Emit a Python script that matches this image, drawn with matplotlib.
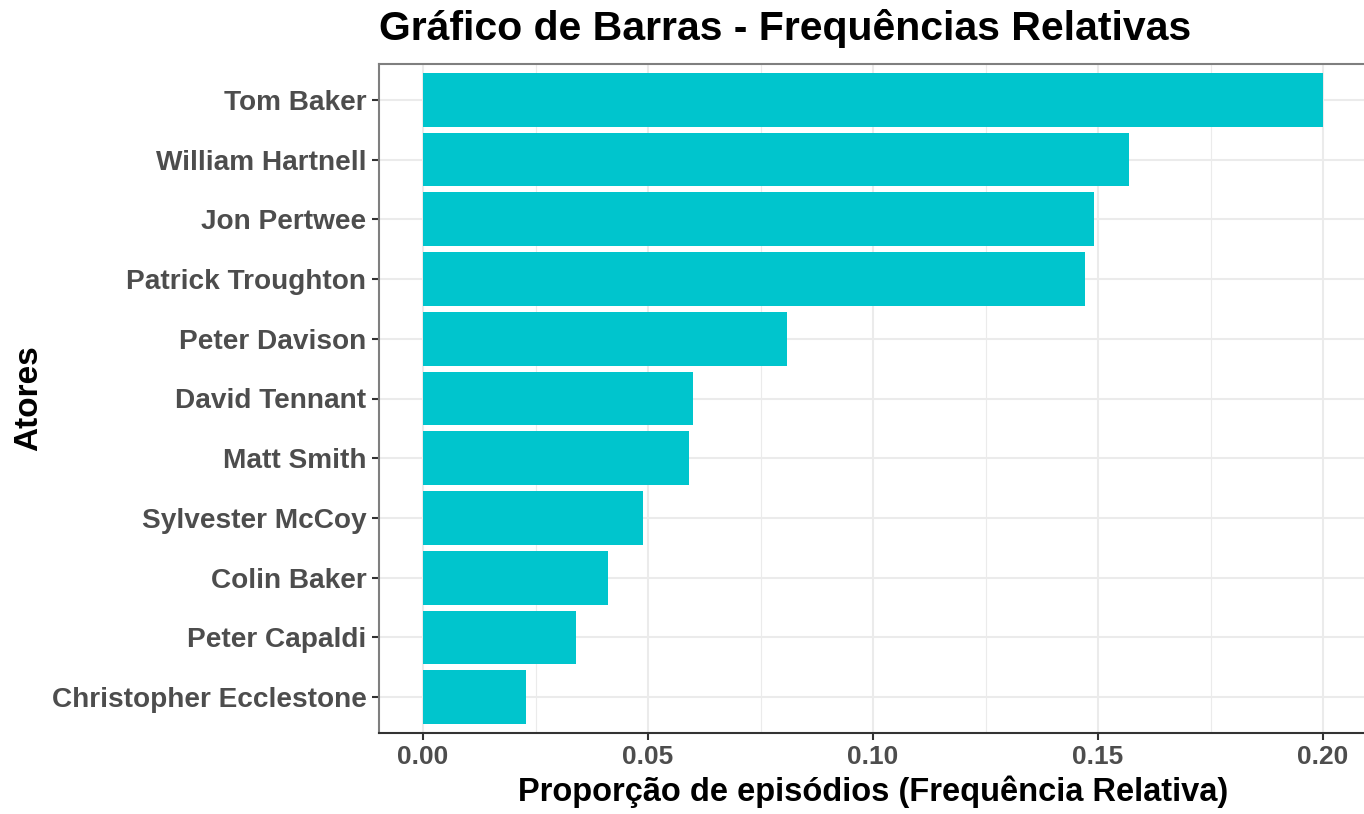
import matplotlib
matplotlib.use('Agg')
import matplotlib.pyplot as plt
from matplotlib.ticker import MultipleLocator

# dados (de baixo para cima)
atores = ['Christopher Ecclestone', 'Peter Capaldi', 'Colin Baker', 'Sylvester McCoy',
          'Matt Smith', 'David Tennant', 'Peter Davison', 'Patrick Troughton',
          'Jon Pertwee', 'William Hartnell', 'Tom Baker']
freq_rel = [0.0229, 0.0340, 0.0411, 0.0489, 0.0591, 0.0600, 0.0809, 0.1471,
            0.1491, 0.1569, 0.2000]
x_ticks = [0.00, 0.05, 0.10, 0.15, 0.20]
x_tick_labels = ['0.00', '0.05', '0.10', '0.15', '0.20']

plt.rcParams['font.family'] = ['Liberation Sans', 'DejaVu Sans']

fig = plt.figure(figsize=(13.64, 8.14), dpi=100)
ax = fig.add_axes([379 / 1364, 1 - 733 / 814, (1368 - 379) / 1364, (733 - 64) / 814])

pos = list(range(len(atores)))
ax.barh(pos, freq_rel, height=0.9, color='#00C5CD', zorder=3)

ax.set_xlim(-0.0098, 0.21)
ax.set_ylim(-0.6, len(atores) - 0.4)

ax.set_xticks(x_ticks)
ax.set_xticklabels(x_tick_labels)
ax.xaxis.set_minor_locator(MultipleLocator(0.025))
ax.set_yticks(pos)
ax.set_yticklabels(atores)

ax.grid(True, which='major', color='#EBEBEB', linewidth=1.5, zorder=0)
ax.grid(True, which='minor', axis='x', color='#EBEBEB', linewidth=0.8, zorder=0)
ax.set_axisbelow(True)

for lab in ax.get_yticklabels():
    lab.set_fontweight('bold')
    lab.set_color('#4D4D4D')
    lab.set_fontsize(20.2)
for lab in ax.get_xticklabels():
    lab.set_fontweight('bold')
    lab.set_color('#4D4D4D')
    lab.set_fontsize(19)
ax.tick_params(axis='both', which='major', length=5, width=1.5, color='#333333', pad=4)
ax.tick_params(axis='x', which='minor', length=0)

ax.spines['top'].set_color('#7F7F7F')
ax.spines['left'].set_color('#7F7F7F')
ax.spines['right'].set_visible(False)
ax.spines['bottom'].set_color('#333333')
for sp in ax.spines.values():
    sp.set_linewidth(1.5)

ax.set_xlabel('Proporção de episódios (Frequência Relativa)', fontsize=23.5,
              fontweight='bold', labelpad=4)
ax.set_ylabel('Atores', fontsize=24, fontweight='bold')
ax.yaxis.set_label_coords((44 - 379) / 989, 0.5)

fig.text(379 / 1364, 1 - 29 / 814, 'Gráfico de Barras - Frequências Relativas',
         fontsize=29.5, fontweight='bold', ha='left', va='center')

fig.savefig('out.png', dpi=100)
